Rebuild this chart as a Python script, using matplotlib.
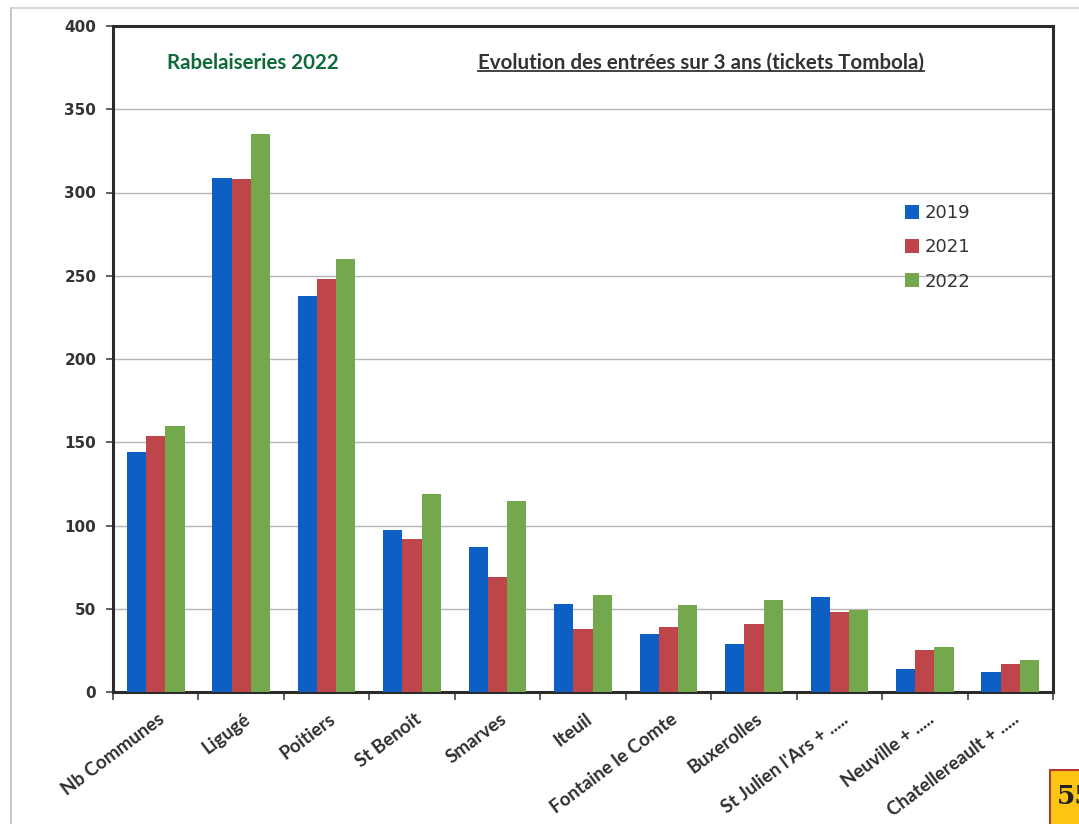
import numpy as np
import matplotlib
matplotlib.use("Agg")
import matplotlib.pyplot as plt
from matplotlib.patches import Rectangle
from matplotlib.lines import Line2D

# data
communes = ["Nb Communes", "Ligugé", "Poitiers", "St Benoit", "Smarves", "Iteuil",
            "Fontaine le Comte", "Buxerolles", "St Julien l'Ars + .....",
            "Neuville + .....", "Chatellereault + ....."]
v2019 = [144, 309, 238, 97, 87, 53, 35, 29, 57, 14, 12]
v2021 = [154, 308, 248, 92, 69, 38, 39, 41, 48, 25, 17]
v2022 = [160, 335, 260, 119, 115, 58, 52, 55, 49, 27, 19]
years = ["2019", "2021", "2022"]
colors = ["#0E5FC3", "#BE464B", "#74A84C"]

fig = plt.figure(figsize=(10.79, 8.24), dpi=100)
fig.patch.set_facecolor("white")

# faint outer frame of the scanned chart
fig.add_artist(Line2D([11/1079, 11/1079], [0, 1-8/824], color="#bdbdbd", lw=1.2))
fig.add_artist(Line2D([11/1079, 1], [1-8/824, 1-8/824], color="#d0d0d0", lw=1.2))

ax = fig.add_axes([113/1079, 1-692/824, (1053-113)/1079, (692-26)/824])

x = np.arange(len(communes))
w = 0.225
for i, (vals, yr) in enumerate(zip([v2019, v2021, v2022], years)):
    ax.bar(x + (i-1)*w, vals, width=w, color=colors[i], label=yr, zorder=3)

ax.set_xlim(-0.5, len(communes)-0.5)
ax.set_ylim(0, 400)
ax.set_yticks(range(0, 401, 50))
ax.yaxis.grid(True, color="#b4b4b4", lw=1.0, zorder=0)

for s in ax.spines.values():
    s.set_color("#2b2b2b")
    s.set_linewidth(2.2)

# category ticks sit between groups
ax.set_xticks(np.arange(len(communes)+1) - 0.5)
ax.set_xticklabels([])
ax.tick_params(axis="x", length=6, width=1.2, color="#444444", direction="out")
ax.tick_params(axis="y", length=5, width=1.2, color="#444444", direction="out",
               labelsize=11, labelcolor="#333333", pad=7)
for lab in ax.get_yticklabels():
    lab.set_fontfamily("DejaVu Sans")
    lab.set_fontweight("bold")

for xi, name in zip(x, communes):
    ax.text(xi + 0.02, -11, name, rotation=37, ha="right", va="top",
            rotation_mode="anchor", fontsize=13.5, fontweight="bold",
            color="#2f2f2f", family="Lato")

ax.text(0.057, 0.945, "Rabelaiseries 2022", transform=ax.transAxes,
        fontsize=14.8, fontweight="bold", color="#0F6A3A", family="Lato",
        va="center", ha="left")
t2 = ax.text(0.388, 0.945, "Evolution des entrées sur 3 ans (tickets Tombola)",
             transform=ax.transAxes, fontsize=14.8, fontweight="bold",
             color="#333333", family="Lato", va="center", ha="left")

leg = ax.legend(loc="upper left", bbox_to_anchor=(0.825, 0.757), frameon=False,
                handlelength=0.8, handleheight=0.8, handletextpad=0.3,
                labelspacing=0.9, prop={"family": "DejaVu Sans", "size": 13})
for txt in leg.get_texts():
    txt.set_color("#333333")

# underline for the subtitle
fig.canvas.draw()
bb = t2.get_window_extent().transformed(fig.transFigure.inverted())
fig.add_artist(Line2D([bb.x0, bb.x1], [bb.y0 + 0.002, bb.y0 + 0.002],
                      color="#333333", lw=1.3))

# page number box, cut at the edge as in the scan
fig.add_artist(Rectangle((1050/1079, -0.02), 0.06, (824-770)/824 + 0.02,
                         facecolor="#FDC414", edgecolor="#B23A2E", lw=1.5,
                         transform=fig.transFigure))
fig.text(1057/1079, 1-797/824, "55", fontsize=19, fontweight="bold",
         family="DejaVu Serif", color="#222222", va="center", ha="left")

fig.savefig("out.png", dpi=100)
